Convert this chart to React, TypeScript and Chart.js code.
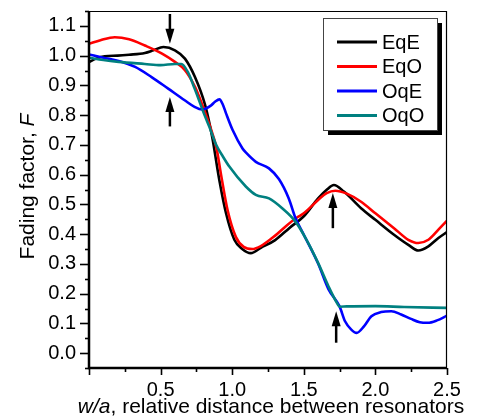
import React, { useEffect, useRef } from 'react';
import { Chart, registerables } from 'chart.js';

Chart.register(...registerables);

const FONT = '"Liberation Sans", Arial, Helvetica, sans-serif';

// ---- data ----
const seriesNames = ['EqE', 'EqO', 'OqE', 'OqO'];
const seriesColors = ['#000000', '#ff0000', '#0000ff', '#008080'];

const eqeX = [0, 0.05, 0.11, 0.2, 0.28, 0.39, 0.45, 0.52, 0.6, 0.67, 0.74, 0.81, 0.86, 0.91, 0.957, 1.015, 1.07, 1.13, 1.2, 1.3, 1.4, 1.5, 1.6, 1.66, 1.71, 1.78, 1.9, 2.0, 2.13, 2.23, 2.3, 2.37, 2.44, 2.5];
const eqeY = [0.978, 0.99, 0.998, 1.0, 1.003, 1.009, 1.018, 1.029, 1.018, 0.99, 0.928, 0.835, 0.727, 0.582, 0.47, 0.381, 0.35, 0.336, 0.354, 0.38, 0.421, 0.46, 0.52, 0.549, 0.565, 0.543, 0.487, 0.448, 0.398, 0.364, 0.345, 0.359, 0.387, 0.407];

const eqoX = [0, 0.08, 0.18, 0.28, 0.39, 0.51, 0.6, 0.67, 0.74, 0.81, 0.85, 0.89, 0.922, 0.968, 1.026, 1.08, 1.14, 1.2, 1.3, 1.373, 1.45, 1.5, 1.6, 1.66, 1.72, 1.8, 1.9, 2.0, 2.13, 2.23, 2.3, 2.37, 2.44, 2.5];
const eqoY = [1.04, 1.052, 1.062, 1.055, 1.034, 1.007, 0.979, 0.951, 0.895, 0.81, 0.755, 0.69, 0.6, 0.48, 0.39, 0.357, 0.35, 0.36, 0.395, 0.426, 0.455, 0.47, 0.515, 0.538, 0.546, 0.536, 0.509, 0.47, 0.42, 0.381, 0.37, 0.381, 0.415, 0.445];

const oqeX = [0, 0.1, 0.207, 0.322, 0.437, 0.553, 0.668, 0.737, 0.79, 0.853, 0.88, 0.911, 0.935, 0.957, 1.003, 1.072, 1.1, 1.165, 1.257, 1.326, 1.395, 1.442, 1.5, 1.6, 1.672, 1.749, 1.788, 1.83, 1.869, 1.92, 1.972, 2.04, 2.111, 2.18, 2.249, 2.31, 2.365, 2.43, 2.5];
const oqeY = [1.004, 0.993, 0.982, 0.962, 0.928, 0.889, 0.85, 0.828, 0.819, 0.833, 0.845, 0.853, 0.835, 0.806, 0.75, 0.688, 0.672, 0.643, 0.621, 0.585, 0.52, 0.454, 0.398, 0.301, 0.215, 0.158, 0.107, 0.08, 0.068, 0.09, 0.124, 0.138, 0.141, 0.13, 0.115, 0.104, 0.102, 0.11, 0.126];

const oqoX = [0, 0.1, 0.207, 0.39, 0.5, 0.6, 0.645, 0.69, 0.737, 0.807, 0.841, 0.888, 0.93, 0.98, 1.095, 1.165, 1.257, 1.349, 1.442, 1.52, 1.603, 1.672, 1.73, 1.752, 1.8, 2.0, 2.2, 2.5];
const oqoY = [0.993, 0.985, 0.979, 0.972, 0.968, 0.972, 0.972, 0.945, 0.89, 0.8, 0.76, 0.7, 0.665, 0.627, 0.56, 0.532, 0.52, 0.487, 0.442, 0.38, 0.3, 0.225, 0.17, 0.156, 0.157, 0.158, 0.155, 0.152];

const seriesX = [eqeX, eqoX, oqeX, oqoX];
const seriesY = [eqeY, eqoY, oqeY, oqoY];

// arrows (annotations): x position, tail value, tip value
const arrowX = [0.565, 0.565, 1.703, 1.726];
const arrowTail = [1.14, 0.762, 0.42, 0.035];
const arrowTip = [1.04, 0.861, 0.538, 0.141];

const xMin = 0;
const xMax = 2.5;
const xStep = 0.25;
const yMin = -0.05;
const yMax = 1.15;
const yStep = 0.05;

const xTitleItalic = 'w/a';
const xTitleRest = ', relative distance between resonators';
const yTitleRest = 'Fading factor, ';
const yTitleItalic = 'F';

const decorPlugin = {
  id: 'decor',
  afterDatasetsDraw(chart: any) {
    const { ctx, scales } = chart;
    const xs = scales.x;
    const ys = scales.y;
    ctx.save();
    ctx.strokeStyle = '#000';
    ctx.fillStyle = '#000';
    for (let i = 0; i < arrowX.length; i++) {
      const px = xs.getPixelForValue(arrowX[i]);
      const pTail = ys.getPixelForValue(arrowTail[i]);
      const pTip = ys.getPixelForValue(arrowTip[i]);
      const dir = pTip > pTail ? 1 : -1;
      const headLen = 15;
      const headHalf = 4.5;
      ctx.lineWidth = 2.5;
      ctx.beginPath();
      ctx.moveTo(px, pTail);
      ctx.lineTo(px, pTip - dir * headLen + dir * 2);
      ctx.stroke();
      ctx.beginPath();
      ctx.moveTo(px, pTip);
      ctx.lineTo(px - headHalf, pTip - dir * headLen);
      ctx.lineTo(px + headHalf, pTip - dir * headLen);
      ctx.closePath();
      ctx.fill();
    }
    ctx.restore();
  },
  afterDraw(chart: any) {
    const { ctx, chartArea: a, scales } = chart;
    const xs = scales.x;
    const ys = scales.y;
    ctx.save();
    ctx.strokeStyle = '#000';
    ctx.fillStyle = '#000';

    // frame
    ctx.lineWidth = 1.2;
    ctx.beginPath();
    ctx.moveTo(a.left, a.top + 0.5);
    ctx.lineTo(a.right - 0.5, a.top + 0.5);
    ctx.lineTo(a.right - 0.5, a.bottom);
    ctx.stroke();
    ctx.lineWidth = 2.5;
    ctx.beginPath();
    ctx.moveTo(a.left, a.top);
    ctx.lineTo(a.left, a.bottom);
    ctx.lineTo(a.right, a.bottom);
    ctx.stroke();

    // ticks (major + minor)
    ctx.lineWidth = 1.6;
    ys.ticks.forEach((t: any) => {
      const r = Math.round(t.value * 100);
      const major = r % 10 === 0;
      const py = Math.round(ys.getPixelForValue(t.value)) + 0.5;
      ctx.beginPath();
      ctx.moveTo(a.left - (major ? 9 : 4), py);
      ctx.lineTo(a.left, py);
      ctx.stroke();
    });
    xs.ticks.forEach((t: any) => {
      const r = Math.round(t.value * 100);
      const major = r % 50 === 0;
      const px = Math.round(xs.getPixelForValue(t.value)) + 0.5;
      ctx.beginPath();
      ctx.moveTo(px, a.bottom);
      ctx.lineTo(px, a.bottom + (major ? 7 : 4));
      ctx.stroke();
    });

    // axis titles
    const titleSize = 21;
    const fItalic = `italic ${titleSize}px ${FONT}`;
    const fNormal = `${titleSize}px ${FONT}`;
    ctx.textBaseline = 'alphabetic';
    ctx.textAlign = 'left';
    ctx.font = fItalic;
    const w1 = ctx.measureText(xTitleItalic).width;
    ctx.font = fNormal;
    const w2 = ctx.measureText(xTitleRest).width;
    const xCenter = 271;
    const sx = xCenter - (w1 + w2) / 2;
    ctx.font = fItalic;
    ctx.fillText(xTitleItalic, sx, 413);
    ctx.font = fNormal;
    ctx.fillText(xTitleRest, sx + w1, 413);

    ctx.save();
    ctx.translate(34, 186.5);
    ctx.rotate(-Math.PI / 2);
    ctx.font = fNormal;
    const v1 = ctx.measureText(yTitleRest).width;
    ctx.font = fItalic;
    const v2 = ctx.measureText(yTitleItalic).width;
    const vs = -(v1 + v2) / 2;
    ctx.font = fNormal;
    ctx.fillText(yTitleRest, vs, 0);
    ctx.font = fItalic;
    ctx.fillText(yTitleItalic, vs + v1, 0);
    ctx.restore();

    // legend
    const bx = 323, by = 18, bw = 114, bh = 112, sh = 5;
    ctx.fillStyle = '#000';
    ctx.fillRect(bx + sh, by + sh, bw, bh);
    ctx.fillStyle = '#fff';
    ctx.fillRect(bx, by, bw, bh);
    ctx.strokeStyle = '#444';
    ctx.lineWidth = 1;
    ctx.strokeRect(bx + 0.5, by + 0.5, bw, bh);
    ctx.font = `20px ${FONT}`;
    ctx.textBaseline = 'middle';
    chart.data.datasets.forEach((ds: any, i: number) => {
      const ry = 42 + i * 24.5;
      ctx.strokeStyle = ds.borderColor;
      ctx.lineWidth = 3;
      ctx.beginPath();
      ctx.moveTo(337, ry);
      ctx.lineTo(377, ry);
      ctx.stroke();
      ctx.fillStyle = '#000';
      ctx.fillText(ds.label, 382, ry + 1);
    });
    ctx.restore();
  },
};

const zeroPad = (s: any) => {
  s.paddingTop = 0;
  s.paddingBottom = 0;
  s.paddingLeft = 0;
  s.paddingRight = 0;
};

export default function App() {
  const ref = useRef<HTMLCanvasElement | null>(null);
  useEffect(() => {
    if (!ref.current) return;
    const datasets = seriesNames.map((name, i) => ({
      label: name,
      data: seriesX[i].map((x, j) => ({ x, y: seriesY[i][j] })),
      borderColor: seriesColors[i],
      backgroundColor: seriesColors[i],
      borderWidth: 2.6,
      pointRadius: 0,
      fill: false,
      cubicInterpolationMode: 'monotone' as const,
      order: 4 - i,
    }));
    const chart = new Chart(ref.current, {
      type: 'line',
      data: { datasets },
      options: {
        animation: false,
        responsive: false,
        maintainAspectRatio: false,
        layout: { padding: { left: 0, right: 39, top: 11, bottom: 0 } },
        plugins: { legend: { display: false }, tooltip: { enabled: false } },
        scales: {
          x: {
            type: 'linear',
            min: xMin,
            max: xMax,
            afterFit: (s: any) => { s.height = 51; zeroPad(s); },
            grid: { display: false, drawTicks: false },
            border: { display: false },
            ticks: {
              stepSize: xStep,
              autoSkip: false,
              maxRotation: 0,
              minRotation: 0,
              padding: 10,
              color: '#000',
              font: { family: FONT, size: 20 },
              callback: (v: any) => {
                const r = Math.round(Number(v) * 100);
                return r % 50 === 0 && r > 0 ? (r / 100).toFixed(1) : '';
              },
            },
          },
          y: {
            type: 'linear',
            min: yMin,
            max: yMax,
            afterFit: (s: any) => { s.width = 89; zeroPad(s); },
            grid: { display: false, drawTicks: false },
            border: { display: false },
            ticks: {
              stepSize: yStep,
              autoSkip: false,
              padding: 13,
              color: '#000',
              font: { family: FONT, size: 20 },
              callback: (v: any) => {
                const r = Math.round(Number(v) * 100);
                return r % 10 === 0 && r >= 0 && r <= 110 ? (r / 100).toFixed(1) : '';
              },
            },
          },
        },
      },
      plugins: [decorPlugin],
    });
    return () => chart.destroy();
  }, []);
  return (
    <div style={{ position: 'fixed', left: 0, top: 0, width: 486, height: 419, background: '#fff' }}>
      <canvas ref={ref} width={486} height={419} style={{ width: 486, height: 419 }} />
    </div>
  );
}
